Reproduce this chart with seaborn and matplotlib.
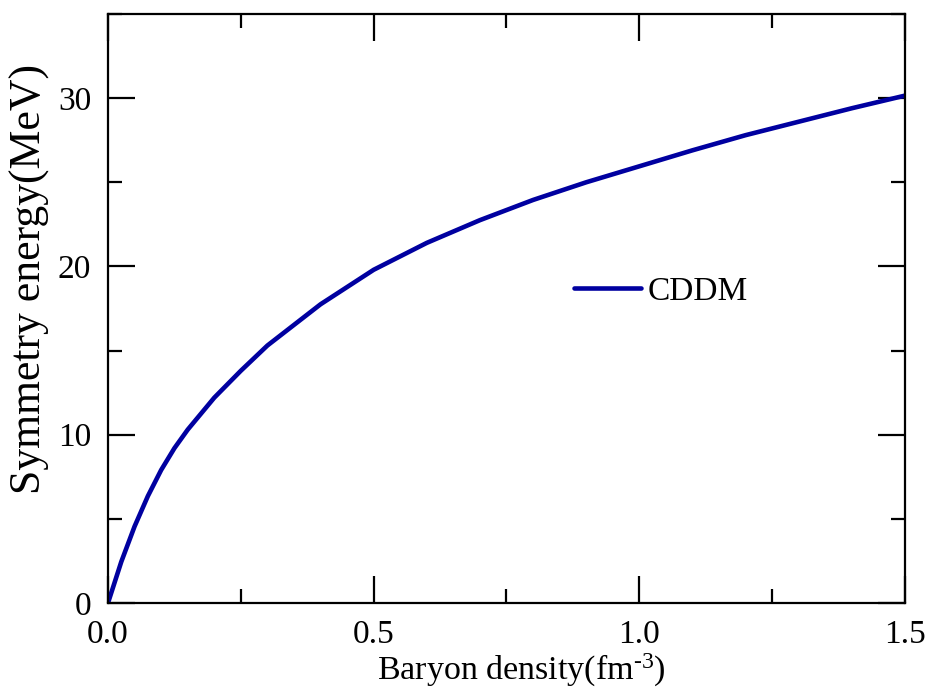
import numpy as np
import pandas as pd
import matplotlib
matplotlib.use("Agg")
import matplotlib.pyplot as plt
import seaborn as sns
from matplotlib.ticker import MultipleLocator, FormatStrFormatter

# Data
density = [0.0, 0.025, 0.05, 0.075, 0.1, 0.125, 0.15, 0.2, 0.25, 0.3, 0.4,
           0.5, 0.6, 0.7, 0.8, 0.9, 1.0, 1.1, 1.2, 1.3, 1.4, 1.5]
sym_energy = [0.0, 2.45, 4.55, 6.35, 7.9, 9.2, 10.3, 12.2, 13.8, 15.3, 17.75,
              19.8, 21.4, 22.75, 23.95, 25.0, 25.95, 26.9, 27.8, 28.6, 29.4, 30.15]
series_name = "CDDM"

sns.set_style("ticks")
plt.rcParams['font.family'] = ['Liberation Serif', 'DejaVu Serif']
plt.rcParams['mathtext.fontset'] = 'custom'
plt.rcParams['mathtext.rm'] = 'Liberation Serif'
plt.rcParams['mathtext.it'] = 'Liberation Serif:italic'
plt.rcParams['mathtext.default'] = 'regular'
for k in ['text.color', 'axes.labelcolor', 'xtick.color', 'ytick.color', 'axes.edgecolor']:
    plt.rcParams[k] = 'black'

df = pd.DataFrame({"density": density, "energy": sym_energy, "model": series_name})

fig = plt.figure(figsize=(9.36, 6.89), dpi=100)
ax = fig.add_axes([108/936, 1-603/689, 797/936, 589/689])

sns.lineplot(data=df, x="density", y="energy", hue="model",
             palette=["#0000A0"], linewidth=3.3, ax=ax)

ax.set_xlim(0, 1.5)
ax.set_ylim(0, 35)
ax.xaxis.set_major_locator(MultipleLocator(0.5))
ax.xaxis.set_minor_locator(MultipleLocator(0.25))
ax.yaxis.set_major_locator(MultipleLocator(10))
ax.yaxis.set_minor_locator(MultipleLocator(5))
ax.xaxis.set_major_formatter(FormatStrFormatter('%.1f'))
ax.yaxis.set_major_formatter(FormatStrFormatter('%d'))

for s in ax.spines.values():
    s.set_linewidth(1.6)
    s.set_color('black')
ax.tick_params(which='both', direction='in', top=True, right=True,
               colors='black', width=1.6)
ax.tick_params(which='major', length=19.5, labelsize=24, pad=12)
ax.tick_params(which='minor', length=10)

ax.set_xlabel("Baryon density(fm$^{\u2010 3}$)", fontsize=24.5)
ax.set_ylabel("Symmetry energy(MeV)", fontsize=31.5)
ax.xaxis.set_label_coords(0.518, -0.083)
ax.yaxis.set_label_coords(-0.073, 0.55)

ax.legend(loc='center left', bbox_to_anchor=((574-108)/797, (603-291.7)/589),
          frameon=False, fontsize=24, handlelength=2.0, handletextpad=0.2,
          borderpad=0, borderaxespad=0)

fig.savefig("out.png", dpi=100)
